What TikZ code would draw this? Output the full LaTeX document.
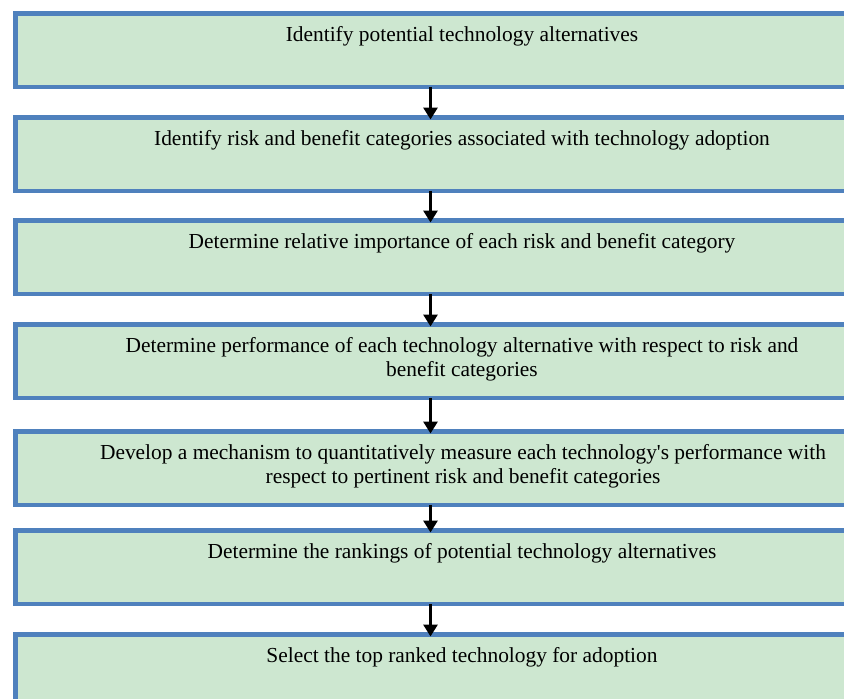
\documentclass[tikz,border=0pt]{standalone}
\usepackage{fontspec}
\setmainfont{Liberation Serif}
\usetikzlibrary{arrows.meta}
\definecolor{stepfill}{RGB}{205,231,208}
\definecolor{stepedge}{RGB}{79,129,189}
\begin{document}
\begin{tikzpicture}[x=1pt,y=-1pt,
  stepbox/.style={rectangle, draw=stepedge, fill=stepfill, line width=4.5pt,
    minimum width=830.5pt, minimum height=73.5pt, inner sep=0pt, outer sep=0pt},
  steptext/.style={font=\fontsize{21.4}{24.6}\selectfont, align=center,
    anchor=base, inner sep=0pt},
  flow/.style={line width=3.8pt, -{Triangle[width=14pt,length=12pt]}}]
\useasboundingbox (0,0) rectangle (844,699);
\clip (0,0) rectangle (844,699);
% process boxes
\node[stepbox] (b1) at (430.5,50)  {};
\node[stepbox] (b2) at (430.5,154) {};
\node[stepbox] (b3) at (430.5,257) {};
\node[stepbox] (b4) at (430.5,361) {};
\node[stepbox] (b5) at (430.5,468) {};
\node[stepbox] (b6) at (430.5,567) {};
\node[stepbox] (b7) at (430.5,671) {};
% box texts (base = baseline of the last line)
\node[steptext] (t1) at (462,41)    {Identify potential technology alternatives};
\node[steptext] (t2) at (462,145)   {Identify risk and benefit categories associated with technology adoption};
\node[steptext] (t3) at (462,248)   {Determine relative importance of each risk and benefit category};
\node[steptext] (t4) at (462,376.6) {Determine performance of each technology alternative with respect to risk and\\benefit categories};
\node[steptext] (t5) at (463,483.6) {Develop a mechanism to quantitatively measure each technology\textquotesingle s performance with\\respect to pertinent risk and benefit categories};
\node[steptext] (t6) at (462,558)   {Determine the rankings of potential technology alternatives};
\node[steptext] (t7) at (462,662)   {Select the top ranked technology for adoption};
% connectors
\foreach \a/\b in {b1/b2,b2/b3,b3/b4,b4/b5,b5/b6,b6/b7}
  \draw[flow] (\a.south) -- ([yshift=-2.25pt]\b.north);
\end{tikzpicture}
\end{document}
